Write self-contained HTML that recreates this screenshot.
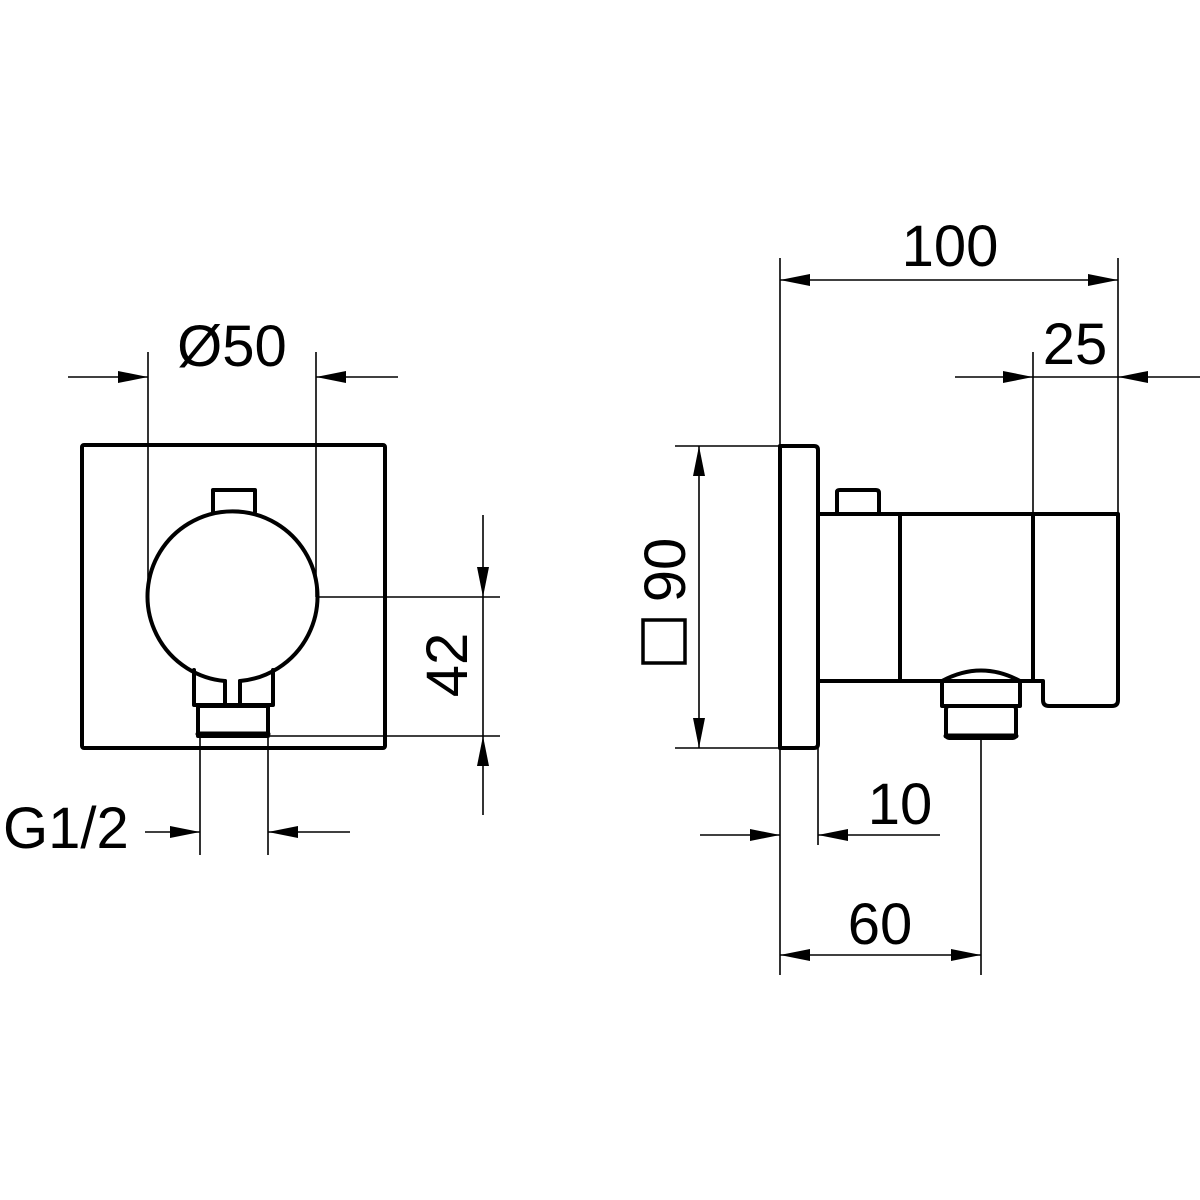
<!DOCTYPE html>
<html><head><meta charset="utf-8"><style>html,body{margin:0;padding:0;background:#fff}svg{display:block}</style></head><body>
<svg width="1200" height="1200" viewBox="0 0 1200 1200" xmlns="http://www.w3.org/2000/svg">
<defs>
<marker id="a" viewBox="0 0 30 12" refX="30" refY="6" markerWidth="30" markerHeight="12" markerUnits="userSpaceOnUse" orient="auto"><path d="M0,0 L30,6 L0,12 Z" fill="#000"/></marker>
</defs>
<g fill="none" stroke="#000" stroke-linejoin="round" stroke-linecap="round">
<g stroke-width="4">
<rect x="82" y="445" width="303" height="303" rx="2"/>
<path d="M213,512 V490 H255 V512"/>
<path d="M225,681 A85,85 0 1 1 240,681"/>
<path d="M225,681 V705 M240,681 V705"/>
<path d="M194,670 V705 H273 V670"/>
<rect x="198" y="706" width="70" height="30"/>
<line x1="198" y1="734" x2="268" y2="734" stroke-width="5"/>
</g>
<g stroke-width="4">
<path d="M780,446 H814 Q818,446 818,450 V744 Q818,748 814,748 H780 Z"/>
<path d="M837,513 V492 Q837,490 840,490 H876 Q879,490 879,493 V513"/>
<path d="M818,514 H1118 V700 Q1118,706 1112,706 H1049 Q1043,706 1043,700 V681 H818"/>
<line x1="900" y1="514" x2="900" y2="681"/>
<line x1="1033" y1="514" x2="1033" y2="681"/>
<path d="M942,681 Q981,660 1020,681 V706 H942 Z"/>
<rect x="946" y="706" width="70" height="32" rx="3"/>
<line x1="946" y1="736" x2="1016" y2="736" stroke-width="5"/>
</g>
</g>
<g stroke="#000" stroke-width="1.6" fill="none">
<line x1="148" y1="352" x2="148" y2="597"/>
<line x1="316" y1="352" x2="316" y2="597"/>
<line x1="68" y1="377" x2="148" y2="377" marker-end="url(#a)"/>
<line x1="398" y1="377" x2="316" y2="377" marker-end="url(#a)"/>
<line x1="318" y1="597" x2="500" y2="597"/>
<line x1="270" y1="736" x2="500" y2="736"/>
<line x1="483" y1="515" x2="483" y2="597" marker-end="url(#a)"/>
<line x1="483" y1="815" x2="483" y2="736" marker-end="url(#a)"/>
<line x1="483" y1="597" x2="483" y2="736"/>
<line x1="200" y1="738" x2="200" y2="855"/>
<line x1="268" y1="738" x2="268" y2="855"/>
<line x1="145" y1="832" x2="200" y2="832" marker-end="url(#a)"/>
<line x1="350" y1="832" x2="268" y2="832" marker-end="url(#a)"/>
<line x1="780" y1="258" x2="780" y2="446"/>
<line x1="1118" y1="258" x2="1118" y2="514"/>
<line x1="950" y1="280" x2="780" y2="280" marker-end="url(#a)"/>
<line x1="950" y1="280" x2="1118" y2="280" marker-end="url(#a)"/>
<line x1="1033" y1="352" x2="1033" y2="514"/>
<line x1="955" y1="377" x2="1033" y2="377" marker-end="url(#a)"/>
<line x1="1200" y1="377" x2="1118" y2="377" marker-end="url(#a)"/>
<line x1="1033" y1="377" x2="1118" y2="377"/>
<line x1="675" y1="446" x2="780" y2="446"/>
<line x1="675" y1="748" x2="780" y2="748"/>
<line x1="699" y1="597" x2="699" y2="446" marker-end="url(#a)"/>
<line x1="699" y1="597" x2="699" y2="748" marker-end="url(#a)"/>
<line x1="780" y1="748" x2="780" y2="975"/>
<line x1="818" y1="748" x2="818" y2="845"/>
<line x1="700" y1="835" x2="780" y2="835" marker-end="url(#a)"/>
<line x1="940" y1="835" x2="818" y2="835" marker-end="url(#a)"/>
<line x1="981" y1="738" x2="981" y2="975"/>
<line x1="880" y1="955" x2="780" y2="955" marker-end="url(#a)"/>
<line x1="880" y1="955" x2="981" y2="955" marker-end="url(#a)"/>
</g>
<rect x="643" y="620" width="42" height="43" fill="none" stroke="#000" stroke-width="3.5"/>
<g font-family="Liberation Sans, sans-serif" font-size="58" fill="#000">
<text x="232" y="366" text-anchor="middle">Ø50</text>
<text x="950" y="266" text-anchor="middle">100</text>
<text x="1075" y="364" text-anchor="middle">25</text>
<text x="900" y="824" text-anchor="middle">10</text>
<text x="880" y="944" text-anchor="middle">60</text>
<text x="3" y="848">G1/2</text>
<text transform="translate(467,665) rotate(-90)" text-anchor="middle">42</text>
<text transform="translate(685,570) rotate(-90)" text-anchor="middle">90</text>
</g>
</svg>
</body></html>
